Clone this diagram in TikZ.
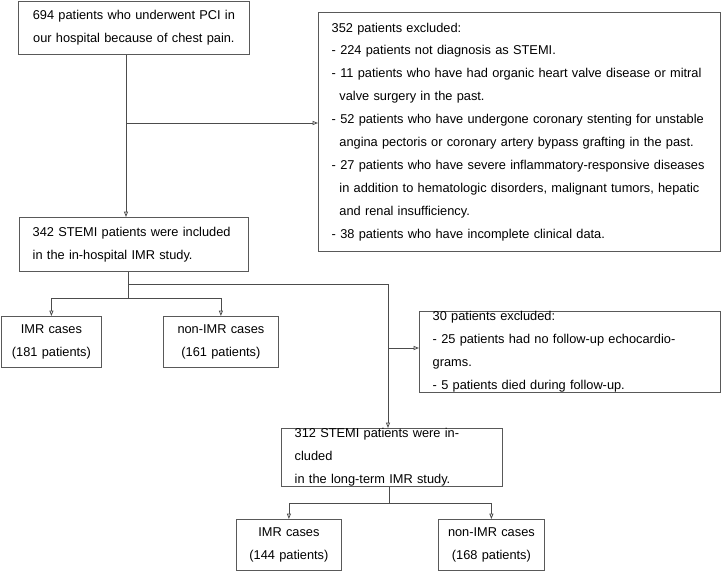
\documentclass[tikz,border=0pt]{standalone}
\usepackage{fontspec}
\setmainfont{Liberation Sans}
\usetikzlibrary{arrows.meta}
\tikzset{
  bx/.style={draw=black!65, line width=0.6pt, anchor=north west, inner ysep=0pt, inner xsep=#1, font=\fontsize{9.6}{17.2}\selectfont, align=left},
  bx/.default=8pt,
  sz/.style n args={3}{minimum width=#1*0.75pt, minimum height=#2*0.75pt, text width=#1*0.75pt-#3},
  ln/.style={draw=black!70, line width=0.6pt},
  arr/.style={ln, -{Triangle[open,length=4pt,width=3pt]}}
}
\begin{document}
\begin{tikzpicture}[x=0.75pt,y=-0.75pt]
\useasboundingbox (0,0) rectangle (722,571);
\node[bx, sz={231}{53}{16pt}, align=center] (A) at (18,1) {694 patients who underwent PCI in\\our hospital because of chest pain.};
\node[bx=10pt, sz={402}{239}{20pt}] (E) at (318,12) {352 patients excluded:\\
- 224 patients not diagnosis as STEMI.\\
- 11 patients who have had organic heart valve disease or mitral\\
\hspace*{0.6em}valve surgery in the past.\\
- 52 patients who have undergone coronary stenting for unstable\\
\hspace*{0.6em}angina pectoris or coronary artery bypass grafting in the past.\\
- 27 patients who have severe inflammatory-responsive diseases\\
\hspace*{0.6em}in addition to hematologic disorders, malignant tumors, hepatic\\
\hspace*{0.6em}and renal insufficiency.\\
- 38 patients who have incomplete clinical data.};
\node[bx=10pt, sz={229}{54}{20pt}] (B) at (19,217) {342 STEMI patients were included\\in the in-hospital IMR study.};
\node[bx=2pt, sz={100}{51}{4pt}, align=center] (C1) at (1,316) {IMR cases\\(181 patients)};
\node[bx=2pt, sz={115}{51}{4pt}, align=center] (C2) at (163,316) {non-IMR cases\\(161 patients)};
\node[bx=10pt, sz={301}{72}{20pt}] (X) at (419,311) {30 patients excluded:\\
- 25 patients had no follow-up echocardiograms.\\
- 5 patients died during follow-up.};
\node[bx=10pt, sz={221}{54}{20pt}] (D) at (281,428) {312 STEMI patients were included\\in the long-term IMR study.};
\node[bx=2pt, sz={105}{51}{4pt}, align=center] (F1) at (236,519) {IMR cases\\(144 patients)};
\node[bx=2pt, sz={106}{51}{4pt}, align=center] (F2) at (438,519) {non-IMR cases\\(168 patients)};
% connectors
\coordinate (a1) at (126,123);
\draw[arr] (A.south -| a1) -- (B.north -| a1);
\draw[arr] (a1) -- (E.west |- a1);
\coordinate (b1) at (128,284);
\coordinate (b2) at (128,298);
\coordinate (b3) at (388,284);
\coordinate (b4) at (388,348);
\draw[ln] (B.south -| b1) -- (b2);
\draw[ln] (b1) -- (b3);
\draw[arr] (b2) -| (C1.north);
\draw[arr] (b2) -| (C2.north);
\draw[arr] (b3) -- (D.north -| b3);
\draw[arr] (b4) -- (X.west |- b4);
\coordinate (d1) at (389,503);
\draw[ln] (D.south -| d1) -- (d1);
\draw[arr] (d1) -| (F1.north);
\draw[arr] (d1) -| (F2.north);
\end{tikzpicture}
\end{document}
